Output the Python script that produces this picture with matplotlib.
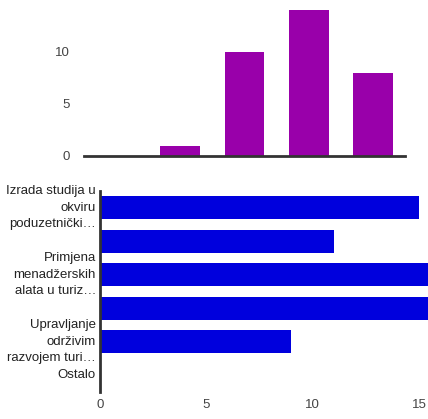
import matplotlib.pyplot as plt
import matplotlib.transforms as mtransforms
import numpy as np

plt.rcParams["font.family"] = ["Liberation Sans", "DejaVu Sans"]

# top chart: rating distribution
rating_values = [0, 1, 10, 14, 8]
rating_ticks = [0, 5, 10]

# bottom chart: topic counts (bars 3 and 4 run past the axis end)
topic_labels = [
    "Izrada studija u\nokviru\npoduzetnički…",
    "",
    "Primjena\nmenadžerskih\nalata u turiz…",
    "",
    "Upravljanje\nodrživim\nrazvojem turi…",
    "Ostalo",
]
topic_values = [15, 11, 16, 16, 9, 0]
topic_ticks = [0, 5, 10, 15]

PURPLE = "#9900aa"
BLUE = "#0000dd"
AXIS = "#333333"
TEXT = "#444444"
W, H = 428, 419

fig = plt.figure(figsize=(W / 100, H / 100), dpi=100)

# top vertical bar chart
ax1 = fig.add_axes([84 / W, (H - 156) / H, 321 / W, 156 / H])
x = np.arange(len(rating_values))
ax1.bar(x, rating_values, width=0.62, color=PURPLE, zorder=2)
ax1.set_xlim(-0.5, len(rating_values) - 0.5)
ax1.set_ylim(0, 15)
ax1.set_yticks(rating_ticks)
ax1.set_xticks([])
for s in ["top", "right", "left"]:
    ax1.spines[s].set_visible(False)
ax1.spines["bottom"].set_color(AXIS)
ax1.spines["bottom"].set_linewidth(2)
ax1.spines["bottom"].set_zorder(3)
ax1.tick_params(axis="y", length=0, pad=10, labelsize=9.5, labelcolor=TEXT)

# bottom horizontal bar chart
ax2 = fig.add_axes([100 / W, (H - 392) / H, 328 / W, 201 / H])
y = np.arange(len(topic_values))
ax2.barh(y, topic_values, height=0.7, color=BLUE, zorder=2)
ax2.set_ylim(len(topic_values) - 0.5, -0.5)
ax2.set_xlim(0, 15.42)
ax2.set_yticks([])
ax2.set_xticks(topic_ticks)
for s in ["top", "right", "bottom"]:
    ax2.spines[s].set_visible(False)
ax2.spines["left"].set_color(AXIS)
ax2.spines["left"].set_linewidth(2)
ax2.spines["left"].set_zorder(3)
ax2.tick_params(axis="x", length=0, pad=5, labelsize=9.5, labelcolor=TEXT)

# category labels, right aligned line by line
trans = mtransforms.blended_transform_factory(ax2.transAxes, ax2.transData)
for yi, label in zip(y, topic_labels):
    if label:
        ax2.text(-4 / 328, yi, label, transform=trans, ha="right", va="center",
                 multialignment="right", linespacing=1.5, fontsize=9.5,
                 color="#222222")

fig.savefig("out.png", dpi=100)
